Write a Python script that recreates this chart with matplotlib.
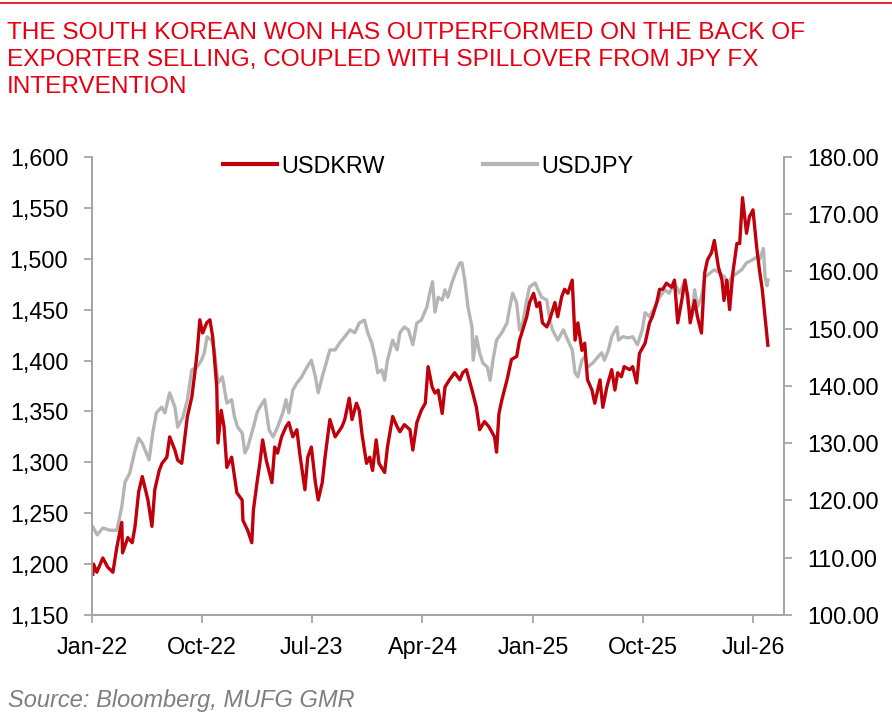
import pandas as pd
import matplotlib.pyplot as plt
import matplotlib.dates as mdates
from matplotlib.ticker import FuncFormatter, MultipleLocator
from matplotlib.lines import Line2D
from matplotlib import font_manager

# Valores (USDKRW, eje izquierdo)
krw_dates = [
    "2022-01-03", "2022-01-05", "2022-01-13", "2022-01-28", "2022-02-09", "2022-02-22", "2022-03-04", "2022-03-16", "2022-03-18", "2022-03-31",
    "2022-04-11", "2022-04-18", "2022-04-27", "2022-05-06", "2022-05-20", "2022-05-30", "2022-06-06", "2022-06-17", "2022-06-24", "2022-07-06",
    "2022-07-13", "2022-07-26", "2022-08-02", "2022-08-12", "2022-08-19", "2022-08-26", "2022-09-06", "2022-09-13", "2022-09-19", "2022-09-26",
    "2022-10-03", "2022-10-13", "2022-10-21", "2022-10-28", "2022-11-07", "2022-11-10", "2022-11-18", "2022-11-25", "2022-12-02", "2022-12-14",
    "2022-12-27", "2023-01-09", "2023-01-11", "2023-01-23", "2023-02-02", "2023-02-06", "2023-02-15", "2023-02-22", "2023-03-01", "2023-03-10",
    "2023-03-24", "2023-03-31", "2023-04-07", "2023-04-17", "2023-04-28", "2023-05-05", "2023-05-15", "2023-05-25", "2023-06-01", "2023-06-14",
    "2023-06-21", "2023-06-30", "2023-07-10", "2023-07-17", "2023-07-27", "2023-08-03", "2023-08-15", "2023-08-28", "2023-09-04", "2023-09-14",
    "2023-09-21", "2023-10-02", "2023-10-09", "2023-10-20", "2023-10-27", "2023-11-03", "2023-11-14", "2023-11-22", "2023-11-29", "2023-12-08",
    "2023-12-15", "2023-12-29", "2024-01-05", "2024-01-18", "2024-01-29", "2024-02-05", "2024-02-16", "2024-03-01", "2024-03-08", "2024-03-18",
    "2024-03-29", "2024-04-08", "2024-04-15", "2024-04-25", "2024-05-02", "2024-05-10", "2024-05-20", "2024-05-27", "2024-06-07", "2024-06-20",
    "2024-07-03", "2024-07-10", "2024-07-19", "2024-07-26", "2024-08-02", "2024-08-13", "2024-08-21", "2024-09-02", "2024-09-13", "2024-09-27",
    "2024-10-02", "2024-10-08", "2024-10-15", "2024-10-28", "2024-11-08", "2024-11-21", "2024-11-28", "2024-12-06", "2024-12-16", "2024-12-23",
    "2025-01-02", "2025-01-10", "2025-01-17", "2025-01-24", "2025-02-04", "2025-02-11", "2025-02-24", "2025-03-03", "2025-03-13", "2025-03-20",
    "2025-03-28", "2025-04-08", "2025-04-15", "2025-04-22", "2025-05-02", "2025-05-09", "2025-05-16", "2025-05-27", "2025-06-03", "2025-06-16",
    "2025-06-23", "2025-07-03", "2025-07-15", "2025-07-23", "2025-07-30", "2025-08-08", "2025-08-15", "2025-08-29", "2025-09-05", "2025-09-15",
    "2025-09-22", "2025-10-06", "2025-10-17", "2025-10-24", "2025-11-04", "2025-11-11", "2025-11-19", "2025-11-28", "2025-12-11", "2025-12-18",
    "2025-12-26", "2026-01-05", "2026-01-13", "2026-01-20", "2026-01-26", "2026-02-06", "2026-02-13", "2026-02-23", "2026-03-03", "2026-03-10",
    "2026-03-20", "2026-03-27", "2026-04-06", "2026-04-15", "2026-04-20", "2026-04-27", "2026-05-04", "2026-05-12", "2026-05-22", "2026-05-29",
    "2026-06-05", "2026-06-15", "2026-06-22", "2026-07-01", "2026-07-10", "2026-07-17", "2026-07-24", "2026-08-03", "2026-08-07",
]
krw_values = [
    1190, 1200, 1192, 1206, 1197, 1192, 1217, 1241, 1211, 1226,
    1221, 1237, 1271, 1286, 1263, 1237, 1273, 1292, 1299, 1305,
    1325, 1312, 1302, 1299, 1322, 1345, 1364, 1386, 1407, 1440,
    1427, 1437, 1440, 1423, 1374, 1319, 1351, 1335, 1295, 1305,
    1270, 1263, 1243, 1233, 1221, 1253, 1280, 1299, 1322, 1302,
    1280, 1315, 1309, 1325, 1335, 1339, 1325, 1332, 1309, 1273,
    1305, 1315, 1280, 1263, 1280, 1305, 1342, 1325, 1329, 1335,
    1342, 1363, 1342, 1358, 1351, 1327, 1299, 1305, 1292, 1322,
    1299, 1290, 1315, 1345, 1335, 1330, 1337, 1332, 1312, 1339,
    1351, 1358, 1394, 1374, 1368, 1371, 1348, 1374, 1381, 1388,
    1381, 1388, 1391, 1381, 1371, 1354, 1332, 1340, 1335, 1325,
    1310, 1348, 1361, 1381, 1401, 1404, 1420, 1430, 1443, 1457,
    1466, 1453, 1457, 1437, 1433, 1440, 1457, 1443, 1463, 1470,
    1466, 1479, 1420, 1437, 1410, 1417, 1381, 1371, 1358, 1381,
    1354, 1374, 1391, 1371, 1388, 1384, 1394, 1391, 1394, 1378,
    1407, 1417, 1437, 1443, 1457, 1470, 1470, 1476, 1472, 1479,
    1437, 1459, 1479, 1463, 1437, 1459, 1443, 1427, 1486, 1499,
    1506, 1518, 1492, 1479, 1459, 1479, 1450, 1486, 1515, 1515,
    1560, 1525, 1541, 1548, 1512, 1489, 1470, 1430, 1415,
]

# USDJPY, eje derecho
jpy_dates = [
    "2022-01-03", "2022-01-14", "2022-01-28", "2022-02-14", "2022-03-04", "2022-03-16", "2022-03-24", "2022-04-05", "2022-04-18", "2022-04-27",
    "2022-05-06", "2022-05-23", "2022-06-01", "2022-06-10", "2022-06-23", "2022-07-01", "2022-07-13", "2022-07-26", "2022-08-02", "2022-08-15",
    "2022-08-26", "2022-09-06", "2022-09-19", "2022-09-30", "2022-10-07", "2022-10-14", "2022-10-25", "2022-11-01", "2022-11-10", "2022-11-21",
    "2022-12-02", "2022-12-14", "2022-12-21", "2022-12-29", "2023-01-09", "2023-01-16", "2023-01-23", "2023-02-06", "2023-02-15", "2023-02-22",
    "2023-03-06", "2023-03-17", "2023-03-27", "2023-04-07", "2023-04-20", "2023-04-28", "2023-05-05", "2023-05-15", "2023-05-25", "2023-06-06",
    "2023-06-19", "2023-06-30", "2023-07-10", "2023-07-17", "2023-07-27", "2023-08-03", "2023-08-15", "2023-08-28", "2023-09-08", "2023-09-21",
    "2023-10-04", "2023-10-16", "2023-10-27", "2023-11-09", "2023-11-17", "2023-11-27", "2023-12-05", "2023-12-12", "2023-12-22", "2023-12-29",
    "2024-01-05", "2024-01-18", "2024-01-29", "2024-02-05", "2024-02-16", "2024-02-26", "2024-03-08", "2024-03-18", "2024-03-29", "2024-04-12",
    "2024-04-19", "2024-04-26", "2024-05-02", "2024-05-10", "2024-05-20", "2024-05-27", "2024-06-03", "2024-06-13", "2024-06-25", "2024-07-03",
    "2024-07-08", "2024-07-15", "2024-07-23", "2024-08-02", "2024-08-05", "2024-08-13", "2024-08-21", "2024-08-29", "2024-09-09", "2024-09-16",
    "2024-09-23", "2024-10-02", "2024-10-15", "2024-10-28", "2024-11-04", "2024-11-11", "2024-11-21", "2024-11-28", "2024-12-06", "2024-12-16",
    "2024-12-23", "2025-01-06", "2025-01-13", "2025-01-22", "2025-02-04", "2025-02-11", "2025-02-18", "2025-03-03", "2025-03-17", "2025-03-28",
    "2025-04-08", "2025-04-15", "2025-04-22", "2025-05-02", "2025-05-09", "2025-05-16", "2025-05-29", "2025-06-11", "2025-06-20", "2025-06-27",
    "2025-07-07", "2025-07-15", "2025-07-28", "2025-08-01", "2025-08-12", "2025-08-25", "2025-09-05", "2025-09-17", "2025-09-29", "2025-10-06",
    "2025-10-17", "2025-10-30", "2025-11-11", "2025-11-24", "2025-12-05", "2025-12-18", "2025-12-31", "2026-01-13", "2026-01-20", "2026-01-30",
    "2026-02-06", "2026-02-13", "2026-02-23", "2026-03-03", "2026-03-16", "2026-03-27", "2026-04-10", "2026-04-22", "2026-04-30", "2026-05-08",
    "2026-05-22", "2026-06-03", "2026-06-15", "2026-06-29", "2026-07-10", "2026-07-17", "2026-07-27", "2026-07-31", "2026-08-05", "2026-08-07",
]
jpy_values = [
    115.4, 114.0, 115.2, 114.8, 114.8, 118.9, 123.2, 124.8, 128.8, 130.9,
    130.0, 127.1, 131.8, 135.3, 136.3, 135.3, 138.8, 136.3, 132.8, 134.6,
    137.6, 142.8, 143.3, 144.5, 145.8, 148.6, 148.0, 146.3, 140.5, 141.6,
    137.0, 137.6, 134.6, 132.8, 131.8, 128.3, 129.3, 132.8, 135.3, 136.3,
    137.6, 132.3, 131.1, 132.8, 135.3, 137.6, 135.3, 139.3, 140.5, 141.6,
    143.3, 144.5, 141.6, 138.8, 141.6, 143.3, 146.3, 146.3, 147.5, 148.6,
    149.8, 149.3, 151.0, 151.5, 149.3, 147.5, 145.1, 142.3, 142.8, 141.0,
    144.5, 148.0, 146.3, 149.3, 150.3, 149.8, 147.2, 151.0, 151.5, 153.8,
    156.2, 158.2, 152.9, 155.5, 155.0, 156.8, 155.5, 158.0, 160.3, 161.5,
    161.5, 158.5, 153.8, 150.3, 144.5, 148.6, 145.8, 144.0, 143.3, 141.0,
    144.5, 148.0, 149.3, 151.0, 153.8, 156.2, 154.5, 149.8, 151.0, 155.0,
    157.3, 158.0, 156.8, 155.5, 155.0, 151.5, 149.8, 148.0, 149.8, 148.0,
    146.3, 142.3, 141.6, 144.5, 145.1, 143.3, 144.0, 145.1, 145.8, 144.5,
    146.3, 148.6, 150.3, 148.0, 148.6, 148.4, 148.6, 147.2, 149.8, 152.8,
    152.1, 153.8, 155.5, 156.8, 156.2, 158.0, 156.2, 158.5, 154.5, 152.1,
    156.8, 153.8, 155.5, 159.0, 159.7, 160.3, 159.7, 159.0, 157.3, 159.0,
    159.7, 160.3, 161.5, 162.0, 162.5, 162.0, 164.0, 159.0, 157.5, 158.5,
]

titulo = ("THE SOUTH KOREAN WON HAS OUTPERFORMED ON THE BACK OF\n"
          "EXPORTER SELLING, COUPLED WITH SPILLOVER FROM JPY FX\n"
          "INTERVENTION")
fuente = "Source: Bloomberg, MUFG GMR"

ROJO = "#C0000B"
GRIS = "#B5B5B5"
EJE = "#A6A6A6"
ROJO_TITULO = "#E60012"

nombres = {f.name for f in font_manager.fontManager.ttflist}
fuente_base = "Liberation Sans" if "Liberation Sans" in nombres else "DejaVu Sans"
plt.rcParams["font.family"] = [fuente_base, "DejaVu Sans"]

x_krw = pd.to_datetime(krw_dates)
x_jpy = pd.to_datetime(jpy_dates)

fig = plt.figure(figsize=(8.92, 7.17), dpi=100)
ax = fig.add_axes([0.1031, 0.1423, 0.7758, 0.6388])
ax2 = ax.twinx()

ax2.plot(x_jpy, jpy_values, color=GRIS, linewidth=2.4, solid_joinstyle="round")
ax.plot(x_krw, krw_values, color=ROJO, linewidth=2.4, solid_joinstyle="round")
ax.set_zorder(ax2.get_zorder() + 1)
ax.patch.set_visible(False)

ax.set_xlim(pd.Timestamp("2022-01-01"), pd.Timestamp("2026-09-16"))
ax.set_ylim(1150, 1600)
ax2.set_ylim(100, 180)
ax.yaxis.set_major_locator(MultipleLocator(50))
ax2.yaxis.set_major_locator(MultipleLocator(10))
ax.yaxis.set_major_formatter(FuncFormatter(lambda v, p: f"{v:,.0f}"))
ax2.yaxis.set_major_formatter(FuncFormatter(lambda v, p: f"{v:.2f}"))

ticks = pd.date_range("2022-01-01", "2026-07-01", freq="9MS")
ax.set_xticks(ticks)
ax.xaxis.set_major_formatter(mdates.DateFormatter("%b-%y"))

for a in (ax, ax2):
    a.spines["top"].set_visible(False)
    for s in ("left", "right", "bottom"):
        a.spines[s].set_color(EJE)
        a.spines[s].set_linewidth(1.3)
    a.tick_params(colors=EJE, labelcolor="black", labelsize=16.8, length=6, width=1.3)
ax.tick_params(axis="y", pad=11)
ax2.tick_params(axis="y", pad=11)
ax.tick_params(axis="x", pad=9)

handles = [Line2D([], [], color=ROJO, linewidth=3), Line2D([], [], color=GRIS, linewidth=3)]
ax.legend(handles, ["USDKRW", "USDJPY"], loc="center", bbox_to_anchor=(0.486, 0.98),
          ncol=2, frameon=False, fontsize=16.8, handlelength=2.3, handletextpad=0.2,
          columnspacing=4.2, borderpad=0)

fig.add_artist(Line2D([0, 1], [0.9965, 0.9965], color=ROJO_TITULO, linewidth=1.2,
                      transform=fig.transFigure))
fig.text(0.008, 0.9693, titulo, color=ROJO_TITULO, fontsize=17.6,
         va="top", ha="left", linespacing=1.28)
fig.text(0.009, 0.0144, fuente, color="#7F7F7F", fontsize=17, style="italic",
         va="baseline", ha="left")

fig.savefig("out.png", dpi=100)
